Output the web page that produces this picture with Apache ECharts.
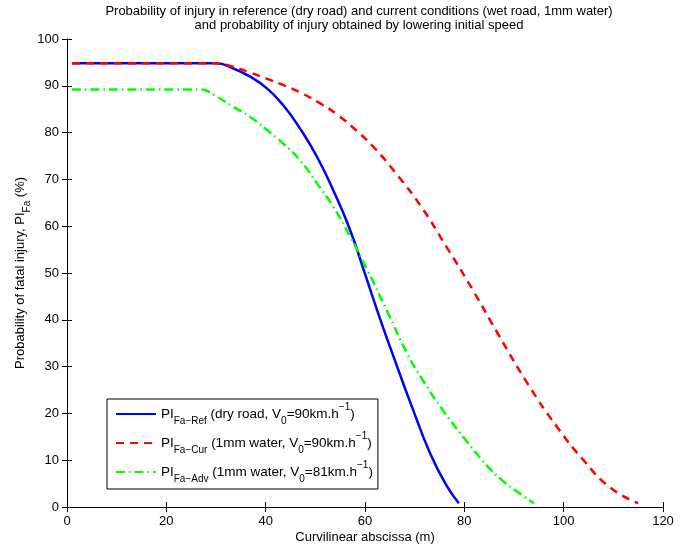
<!DOCTYPE html>
<html>
<head>
<meta charset="utf-8">
<script src="https://cdn.jsdelivr.net/npm/echarts@6/dist/echarts.min.js"></script>
<style>html,body{margin:0;padding:0;background:#fff}#chart{width:699px;height:548px}</style>
</head>
<body>
<div id="chart"></div>
<script>
// ---- data ----
var titleLines = ['Probability of injury in reference (dry road) and current conditions (wet road, 1mm water)',
                  'and probability of injury obtained by lowering initial speed'];
var xName = 'Curvilinear abscissa (m)';
var yName = 'Probability of fatal injury, PI{sub|Fa} (%)';
var seriesNames = ['ref', 'cur', 'adv'];
var legendLabels = [
  'PI{sub|Fa\u2212Ref} (dry road, V{sub|0}=90km.h{sup|\u22121})',
  'PI{sub|Fa\u2212Cur} (1mm water, V{sub|0}=90km.h{sup|\u22121})',
  'PI{sub|Fa\u2212Adv} (1mm water, V{sub|0}=81km.h{sup|\u22121})'
];
var xRef = [1, 27, 29, 30, 33.5, 36.8, 40.2, 43.5, 46.9, 50.3, 53.6, 57, 60, 63, 66.4, 69.7, 73.1, 76.4, 78.9];
var yRef = [94.8, 94.8, 94.8, 94.8, 93.7, 92.0, 89.5, 85.9, 80.9, 74.9, 67.7, 59.2, 49.8, 40.3, 30.2, 20.7, 11.5, 4.6, 0.8];
var xCur = [1, 27, 29, 30, 33, 36.5, 40, 43, 46.9, 50.9, 54.6, 58.3, 62, 66, 71.1, 76.4, 81.8, 86.5, 92.9, 98.6, 104, 109.3, 115];
var yCur = [94.8, 94.8, 94.8, 94.8, 94.2, 93.0, 91.6, 90.4, 88.6, 86.3, 83.7, 80.4, 76.6, 71.6, 64.5, 55.6, 46.2, 37.5, 26.1, 17.2, 10.0, 4.2, 0.8];
var xAdv = [1, 25, 27, 28, 30, 33.5, 36.8, 40.2, 43.5, 46.9, 50.3, 53.6, 57, 60.5, 64.4, 68.4, 71.7, 75.8, 80.8, 84.5, 87.5, 90.5, 94];
var yAdv = [89.2, 89.2, 89.2, 89.0, 87.8, 85.5, 83.4, 80.6, 77.7, 74.1, 69.2, 64.2, 57.8, 50.6, 42.0, 33.0, 27.0, 20.5, 13.6, 8.9, 5.8, 3.4, 0.8];
var xTicks = {min: 0, max: 120, interval: 20};
var yTicks = {min: 0, max: 100, interval: 10};

// ---- chart ----
function zip(xs, ys) { return xs.map(function (x, i) { return [x, ys[i]]; }); }
var FONT = '"Liberation Sans", Arial, Helvetica, sans-serif';
var richStyles = {
  sub: {fontSize: 10, fontFamily: FONT, color: '#000', lineHeight: 10, verticalAlign: 'bottom'},
  sup: {fontSize: 10, fontFamily: FONT, color: '#000', lineHeight: 18, verticalAlign: 'top'}
};
var axisCommon = {
  axisLine: {show: true, lineStyle: {color: '#000', width: 1}},
  axisTick: {show: true, inside: true, length: 5, lineStyle: {color: '#000', width: 1}},
  splitLine: {show: false},
  axisLabel: {color: '#000', fontSize: 13, fontFamily: FONT}
};
function axis(extra) { return Object.assign({}, JSON.parse(JSON.stringify(axisCommon)), extra); }

var chart = echarts.init(document.getElementById('chart'), null, {renderer: 'canvas'});
var option = {
  animation: false,
  backgroundColor: '#fff',
  title: {
    text: titleLines.join('\n'),
    left: 359, top: 4, textAlign: 'center',
    padding: 0,
    textStyle: {fontSize: 13, fontWeight: 'normal', color: '#000', fontFamily: FONT, lineHeight: 14}
  },
  grid: {left: 67, right: 36, top: 39, bottom: 41, containLabel: false, outerBoundsMode: 'none'},
  legend: {
    orient: 'vertical', left: 107, top: 399,
    padding: [3, 5, 5, 8], itemGap: 5, itemWidth: 40, itemHeight: 14,
    backgroundColor: '#fff', borderColor: '#000', borderWidth: 1, borderRadius: 0,
    itemStyle: {opacity: 0},
    data: seriesNames,
    formatter: function (name) { return legendLabels[seriesNames.indexOf(name)]; },
    textStyle: {fontSize: 13.5, fontFamily: FONT, color: '#000', lineHeight: 24, rich: richStyles}
  },
  xAxis: [
    axis({type: 'value', min: xTicks.min, max: xTicks.max, interval: xTicks.interval, position: 'bottom',
      name: xName, nameLocation: 'middle', nameGap: 24, nameMoveOverlap: false,
      nameTextStyle: {fontSize: 13, fontFamily: FONT, color: '#000'}}),
    axis({type: 'value', min: xTicks.min, max: xTicks.max, interval: xTicks.interval, position: 'top',
      axisLabel: {show: false}})
  ],
  yAxis: [
    axis({type: 'value', min: yTicks.min, max: yTicks.max, interval: yTicks.interval, position: 'left',
      name: yName, nameLocation: 'middle', nameGap: 35, nameMoveOverlap: false,
      nameTextStyle: {fontSize: 13, fontFamily: FONT, color: '#000', lineHeight: 24, rich: richStyles}}),
    axis({type: 'value', min: yTicks.min, max: yTicks.max, interval: yTicks.interval, position: 'right',
      axisLabel: {show: false}})
  ],
  series: [
    {name: 'ref', type: 'line', data: zip(xRef, yRef), symbol: 'none', smooth: 0.5,
      lineStyle: {color: '#0000ff', width: 2.5, type: 'solid'}, itemStyle: {color: '#0000ff'}},
    {name: 'cur', type: 'line', data: zip(xCur, yCur), symbol: 'none', smooth: 0.5,
      lineStyle: {color: '#ff0000', width: 2.5, type: [8, 6]}, itemStyle: {color: '#ff0000'}},
    {name: 'adv', type: 'line', data: zip(xAdv, yAdv), symbol: 'none', smooth: 0.5,
      lineStyle: {color: '#00ff00', width: 2.5, type: [9, 4, 1.5, 4]}, itemStyle: {color: '#00ff00'}}
  ]
};
chart.setOption(option);
</script>
</body>
</html>
